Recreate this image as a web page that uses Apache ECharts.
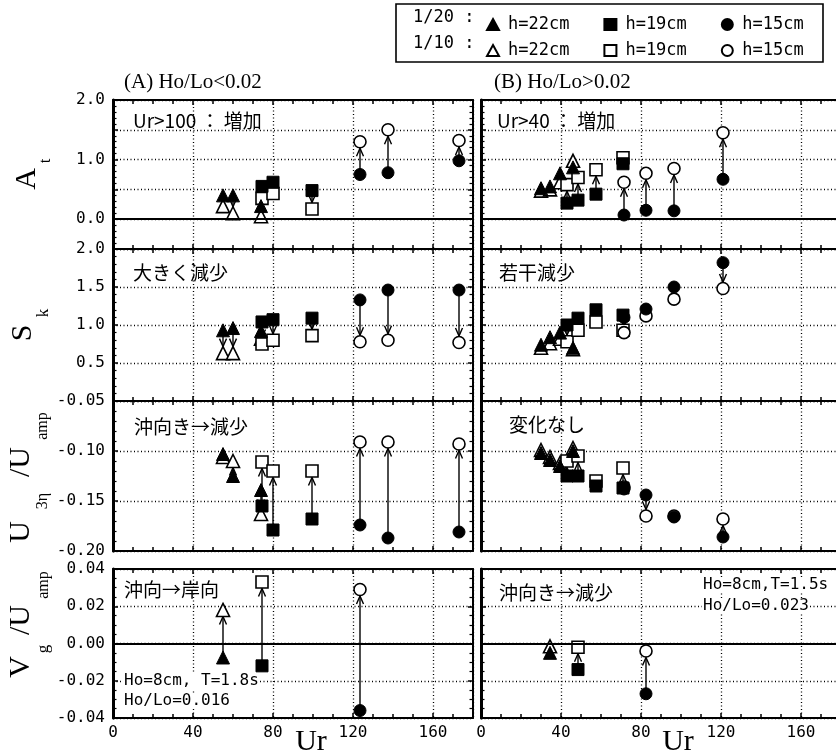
<!DOCTYPE html>
<html>
<head>
<meta charset="utf-8">
<script src="https://cdn.jsdelivr.net/npm/echarts@6/dist/echarts.min.js"></script>
<style>
html,body{margin:0;padding:0;background:#fff}
#chart{width:836px;height:756px}
</style>
</head>
<body>
<div id="chart"></div>
<script>
// ---- Ursell number of each case ----
// (A) Ho/Lo < 0.02
const urA22 = [55, 60, 74];
const urA19 = [74.5, 80, 99.5];
const urA15 = [123.5, 137.5, 173];
// (B) Ho/Lo > 0.02
const urB22 = [30, 34.5, 39.5, 46];
const urB19 = [43, 48.5, 57.5, 71];
const urB15 = [71.5, 82.5, 96.5, 121];

// ---- At (asymmetry) : slope 1/20 (filled) and 1/10 (open) ----
const atA20h22 = [0.40, 0.40, 0.22], atA10h22 = [0.22, 0.10, 0.05];
const atA20h19 = [0.55, 0.62, 0.48], atA10h19 = [0.35, 0.43, 0.17];
const atA20h15 = [0.75, 0.78, 0.98], atA10h15 = [1.30, 1.50, 1.32];
const atB20h22 = [0.52, 0.55, 0.77, 0.87], atB10h22 = [0.48, 0.50, 0.62, 0.98];
const atB20h19 = [0.27, 0.32, 0.42, 0.93], atB10h19 = [0.58, 0.70, 0.83, 1.03];
const atB20h15 = [0.07, 0.15, 0.14, 0.67], atB10h15 = [0.62, 0.77, 0.85, 1.45];

// ---- Sk (skewness) ----
const skA20h22 = [0.93, 0.96, 0.92], skA10h22 = [0.63, 0.63, 0.82];
const skA20h19 = [1.04, 1.07, 1.09], skA10h19 = [0.75, 0.80, 0.86];
const skA20h15 = [1.33, 1.46, 1.46], skA10h15 = [0.78, 0.80, 0.77];
const skB20h22 = [0.74, 0.84, 0.90, 0.70], skB10h22 = [0.70, 0.76, 0.82, 0.68];
const skB20h19 = [1.00, 1.09, 1.20, 1.13], skB10h19 = [0.78, 0.93, 1.04, 0.93];
const skB20h15 = [1.10, 1.21, 1.50, 1.82], skB10h15 = [0.90, 1.12, 1.34, 1.48];

// ---- U3eta / Uamp ----
const u3A20h22 = [-0.103, -0.125, -0.139], u3A10h22 = [-0.106, -0.110, -0.163];
const u3A20h19 = [-0.155, -0.179, -0.168], u3A10h19 = [-0.111, -0.120, -0.120];
const u3A20h15 = [-0.174, -0.187, -0.181], u3A10h15 = [-0.091, -0.091, -0.093];
const u3B20h22 = [-0.102, -0.109, -0.115, -0.100], u3B10h22 = [-0.099, -0.106, -0.112, -0.097];
const u3B20h19 = [-0.125, -0.125, -0.135, -0.137], u3B10h19 = [-0.110, -0.105, -0.130, -0.117];
const u3B20h15 = [-0.138, -0.144, -0.166, -0.186], u3B10h15 = [-0.136, -0.165, -0.165, -0.168];

// ---- Vg / Uamp (undertow) ----
const vgA20h22 = [-0.0075, null, null], vgA10h22 = [0.018, null, null];
const vgA20h19 = [-0.012, null, null], vgA10h19 = [0.033, null, null];
const vgA20h15 = [-0.036, null, null], vgA10h15 = [0.029, null, null];
const vgB20h22 = [null, -0.005, null, null], vgB10h22 = [null, -0.0015, null, null];
const vgB20h19 = [null, -0.014, null, null], vgB10h19 = [null, -0.002, null, null];
const vgB20h15 = [null, -0.027, null, null], vgB10h15 = [null, -0.004, null, null];

// ---- axis ticks ----
const xTicks = [0, 40, 80, 120, 160];
const atTicks = [0.0, 1.0, 2.0];
const skTicks = [0.5, 1.0, 1.5, 2.0];

const depths = ['h22', 'h19', 'h15'];
const depthLabel = {h22: 'h=22cm', h19: 'h=19cm', h15: 'h=15cm'};
const shape = {h22: 'triangle', h19: 'rect', h15: 'circle'};
const shapeSize = {h22: 13, h19: 12, h15: 12};

const columns = [
  {left: 113, ur: {h22: urA22, h19: urA19, h15: urA15}},
  {left: 481, ur: {h22: urB22, h19: urB19, h15: urB15}}
];

const rows = [
  {top: 100, height: 149, min: -0.5, max: 2.0, interval: 0.5, minor: 5, zero: true,
   fmt: v => atTicks.some(t => Math.abs(t - v) < 1e-9) ? v.toFixed(1) : '',
   data: [
     {h22: [atA20h22, atA10h22], h19: [atA20h19, atA10h19], h15: [atA20h15, atA10h15]},
     {h22: [atB20h22, atB10h22], h19: [atB20h19, atB10h19], h15: [atB20h15, atB10h15]}
   ]},
  {top: 249, height: 152, min: 0, max: 2.0, interval: 0.5, minor: 5, zero: false,
   fmt: v => skTicks.some(t => Math.abs(t - v) < 1e-9) ? v.toFixed(1) : '',
   data: [
     {h22: [skA20h22, skA10h22], h19: [skA20h19, skA10h19], h15: [skA20h15, skA10h15]},
     {h22: [skB20h22, skB10h22], h19: [skB20h19, skB10h19], h15: [skB20h15, skB10h15]}
   ]},
  {top: 401, height: 150, min: -0.20, max: -0.05, interval: 0.05, minor: 5, zero: false,
   fmt: v => v.toFixed(2),
   data: [
     {h22: [u3A20h22, u3A10h22], h19: [u3A20h19, u3A10h19], h15: [u3A20h15, u3A10h15]},
     {h22: [u3B20h22, u3B10h22], h19: [u3B20h19, u3B10h19], h15: [u3B20h15, u3B10h15]}
   ]},
  {top: 569, height: 149, min: -0.04, max: 0.04, interval: 0.02, minor: 4, zero: true,
   fmt: v => (Math.abs(v) < 1e-9 ? 0 : v).toFixed(2),
   data: [
     {h22: [vgA20h22, vgA10h22], h19: [vgA20h19, vgA10h19], h15: [vgA20h15, vgA10h15]},
     {h22: [vgB20h22, vgB10h22], h19: [vgB20h19, vgB10h19], h15: [vgB20h15, vgB10h15]}
   ]}
];

const tickFont = "'DejaVu Sans Mono', 'Liberation Mono', monospace";
const jpFont = "'Noto Sans CJK JP', sans-serif";
const serif = "'Liberation Serif', 'DejaVu Serif', serif";
const dotted = {color: '#000', type: [1, 2.5], width: 1.3};

// arrow from the 1/20 value to the 1/10 value, open V head at the open marker
function renderArrow(params, api) {
  const x = api.value(0);
  const p1 = api.coord([x, api.value(1)]);
  const p2 = api.coord([x, api.value(2)]);
  const d = p2[1] - p1[1];
  if (Math.abs(d) < 13) return null;
  const s = d > 0 ? 1 : -1;
  const tip = p2[1] - s * 6.5;
  return {
    type: 'group',
    children: [
      {type: 'line', shape: {x1: p1[0], y1: p1[1], x2: p2[0], y2: tip},
       style: {stroke: '#000', lineWidth: 1.4}},
      {type: 'polyline', shape: {points: [[p2[0] - 3.5, tip - s * 8], [p2[0], tip], [p2[0] + 3.5, tip - s * 8]]},
       style: {stroke: '#000', lineWidth: 1.4, fill: null}}
    ]
  };
}

const grid = [], xAxis = [], yAxis = [], series = [];
rows.forEach((row, r) => {
  columns.forEach((col, c) => {
    const g = grid.length;
    grid.push({left: col.left, top: row.top, width: 360, height: row.height, outerBoundsMode: 'none', containLabel: false});
    const last = r === rows.length - 1;
    const xBase = {
      gridIndex: g, type: 'value', min: 0, max: 180, interval: 40,
      axisLine: {show: true, onZero: false, lineStyle: {color: '#000', width: 2}},
      axisTick: {show: true, inside: true, length: 5, lineStyle: {color: '#000', width: 1.5}},
      minorTick: {show: true, splitNumber: 4, length: 4, lineStyle: {color: '#000', width: 1.5}}
    };
    xAxis.push(Object.assign({}, xBase, {
      position: 'bottom',
      splitLine: {show: true, lineStyle: dotted},
      axisLabel: {show: last, margin: 7, color: '#000', fontFamily: tickFont, fontSize: 16,
                  showMaxLabel: false,
                  formatter: v => xTicks.includes(v) ? String(v) : ''}
    }));
    xAxis.push(Object.assign({}, xBase, {
      position: 'top', splitLine: {show: false}, axisLabel: {show: false}
    }));
    const yBase = {
      gridIndex: g, type: 'value', min: row.min, max: row.max, interval: row.interval,
      axisLine: {show: true, onZero: false, lineStyle: {color: '#000', width: 2}},
      axisTick: {show: true, inside: true, length: 5, lineStyle: {color: '#000', width: 1.5}},
      minorTick: {show: true, splitNumber: row.minor, length: 3.5, lineStyle: {color: '#000', width: 1.2}}
    };
    const yIdx = yAxis.length;
    yAxis.push(Object.assign({}, yBase, {
      position: 'left',
      axisLine: {show: true, onZero: false, lineStyle: {color: '#000', width: 3}},
      splitLine: {show: true, lineStyle: dotted},
      axisLabel: {show: c === 0, margin: 8, color: '#000', fontFamily: tickFont, fontSize: 16,
                  formatter: row.fmt}
    }));
    yAxis.push(Object.assign({}, yBase, {
      position: 'right', splitLine: {show: false}, axisLabel: {show: false}
    }));

    depths.forEach(d => {
      const ur = col.ur[d];
      const [s20, s10] = row.data[c][d];
      const arrows = [], open = [], filled = [];
      ur.forEach((u, i) => {
        if (s20[i] != null && s10[i] != null) arrows.push([u, s20[i], s10[i]]);
        if (s10[i] != null) open.push([u, s10[i]]);
        if (s20[i] != null) filled.push([u, s20[i]]);
      });
      series.push({
        type: 'custom', xAxisIndex: g * 2, yAxisIndex: yIdx, silent: true,
        renderItem: renderArrow, encode: {x: 0, y: [1, 2]}, data: arrows, z: 2
      });
      series.push({
        type: 'scatter', name: '1/10 ' + depthLabel[d], xAxisIndex: g * 2, yAxisIndex: yIdx,
        symbol: shape[d], symbolSize: shapeSize[d], data: open, z: 3,
        itemStyle: {color: '#fff', borderColor: '#000', borderWidth: 1.6, opacity: 1}
      });
      const fs = {
        type: 'scatter', name: '1/20 ' + depthLabel[d], xAxisIndex: g * 2, yAxisIndex: yIdx,
        symbol: shape[d], symbolSize: shapeSize[d], data: filled, z: 4,
        itemStyle: {color: '#000', borderColor: '#000', borderWidth: 1, opacity: 1}
      };
      if (row.zero && d === 'h22') {
        fs.markLine = {
          silent: true, symbol: 'none', label: {show: false}, animation: false,
          lineStyle: {color: '#000', type: 'solid', width: 2},
          data: [{yAxis: 0}]
        };
      }
      series.push(fs);
    });
  });
});

// text drawn on the figure
const notes = [
  ['Ur>100 ： 増加', 133, 121], ['大きく減少', 133, 273], ['沖向き→減少', 134, 427], ['沖向→岸向', 124, 590],
  ['Ur>40 ： 増加', 497, 121], ['若干減少', 499, 273], ['変化なし', 509, 425], ['沖向き→減少', 499, 593]
];
const conditions = [
  ['Ho=8cm, T=1.8s', 123, 681], ['Ho/Lo=0.016', 123, 701],
  ['Ho=8cm,T=1.5s', 702, 585], ['Ho/Lo=0.023', 702, 606]
];
const yTitle = [
  ['A', 27, 179, 30], ['t', 46, 161, 17],
  ['S', 23, 333, 30], ['k', 44, 313, 17],
  ['U', 21, 532, 30], ['3η', 43, 501, 16], ['/U', 21, 462, 30], ['amp', 43, 426, 16],
  ['V', 21, 667, 30], ['g', 44, 649, 17], ['/U', 21, 620, 30], ['amp', 44, 585, 16]
];

const graphic = [];
notes.forEach(([t, x, y]) => graphic.push({
  type: 'text', x, y, z: 10,
  style: {text: t, font: '19px ' + jpFont, fill: '#000', textAlign: 'left', textVerticalAlign: 'middle'}
}));
conditions.forEach(([t, x, y]) => graphic.push({
  type: 'text', x, y, z: 10,
  style: {text: t, font: '16px ' + tickFont, fill: '#000', textAlign: 'left', textVerticalAlign: 'middle',
          backgroundColor: '#fff', padding: [0, 1]}
}));
yTitle.forEach(([t, x, y, s]) => graphic.push({
  type: 'text', x, y, rotation: Math.PI / 2, z: 10,
  style: {text: t, font: s + 'px ' + serif, fill: '#000', textAlign: 'center', textVerticalAlign: 'middle'}
}));
graphic.push(
  {type: 'text', x: 311, y: 742, z: 10, style: {text: 'Ur', font: '30px ' + serif, fill: '#000', textAlign: 'center', textVerticalAlign: 'middle'}},
  {type: 'text', x: 678, y: 742, z: 10, style: {text: 'Ur', font: '30px ' + serif, fill: '#000', textAlign: 'center', textVerticalAlign: 'middle'}},
  {type: 'text', x: 124, y: 82, z: 10, style: {text: '(A) Ho/Lo<0.02', font: '21px ' + serif, fill: '#000', textAlign: 'left', textVerticalAlign: 'middle'}},
  {type: 'text', x: 494, y: 82, z: 10, style: {text: '(B) Ho/Lo>0.02', font: '21px ' + serif, fill: '#000', textAlign: 'left', textVerticalAlign: 'middle'}},
  {type: 'rect', z: 9, shape: {x: 396, y: 4, width: 427, height: 58}, style: {fill: '#fff', stroke: '#000', lineWidth: 1.6}},
  {type: 'text', x: 413, y: 18, z: 10, style: {text: '1/20 :', font: '17px ' + tickFont, fill: '#000', textVerticalAlign: 'middle'}},
  {type: 'text', x: 413, y: 44, z: 10, style: {text: '1/10 :', font: '17px ' + tickFont, fill: '#000', textVerticalAlign: 'middle'}}
);

const legendBase = {
  left: 481, itemWidth: 12, itemHeight: 11, itemGap: 34, selectedMode: false, z: 12,
  formatter: n => n.slice(5),
  textStyle: {color: '#000', fontFamily: tickFont, fontSize: 17, padding: [0, 0, 0, 4]}
};
const legend = [
  Object.assign({}, legendBase, {top: 11, data: depths.map(d => '1/20 ' + depthLabel[d])}),
  Object.assign({}, legendBase, {top: 37, data: depths.map(d => '1/10 ' + depthLabel[d])})
];

const chart = echarts.init(document.getElementById('chart'), null, {renderer: 'canvas'});
chart.setOption({
  backgroundColor: '#fff',
  animation: false,
  legend, grid, xAxis, yAxis, series, graphic
});
</script>
</body>
</html>
